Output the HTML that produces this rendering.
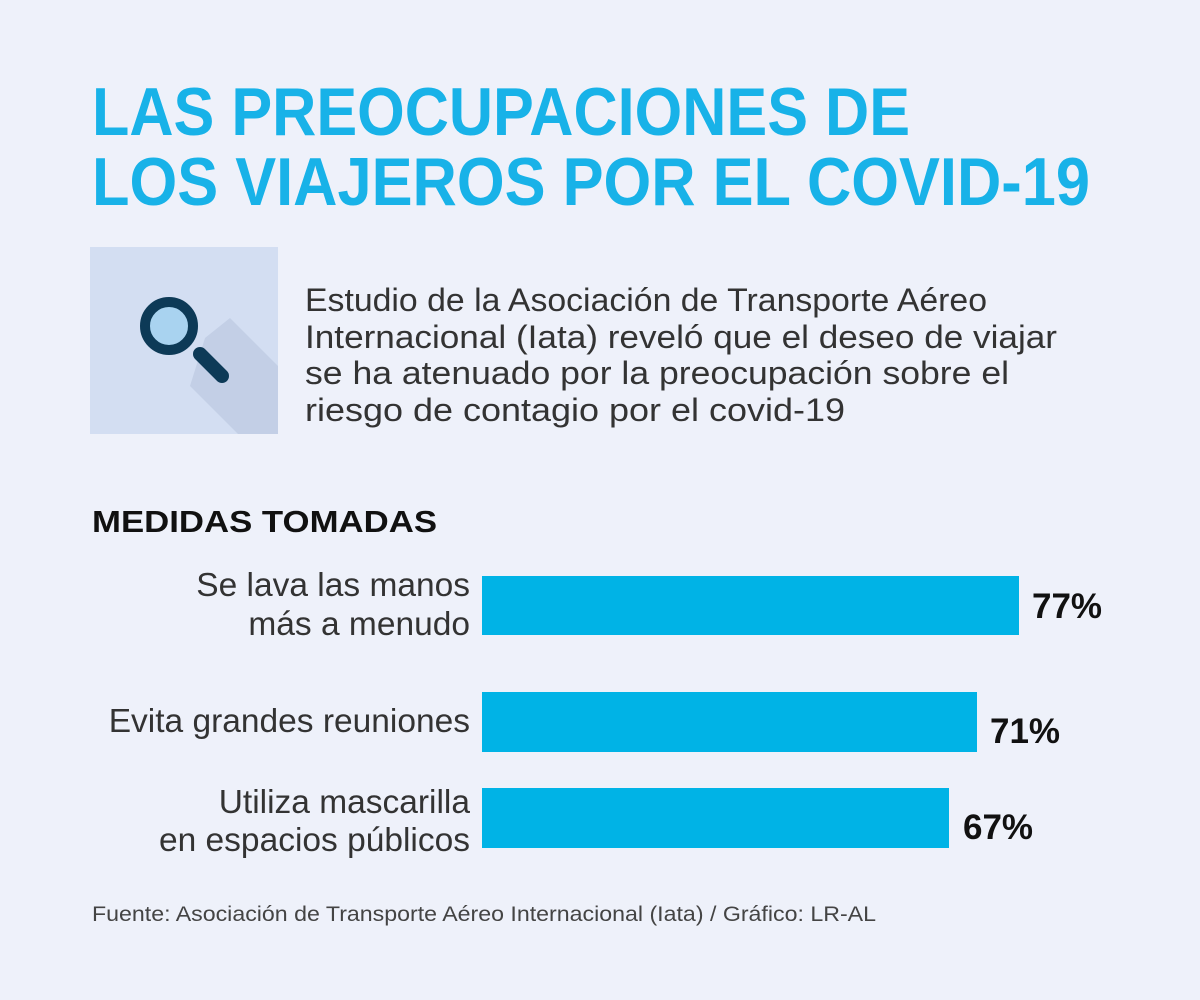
<!DOCTYPE html>
<html><head><meta charset="utf-8"><style>
html,body{margin:0;padding:0;background:#eef1fa;}
svg{display:block}
text{font-family:"Liberation Sans",sans-serif;}
</style></head><body>
<svg width="1200" height="1000" viewBox="0 0 1200 1000" xmlns="http://www.w3.org/2000/svg">
<rect width="1200" height="1000" fill="#eef1fa"/>
<g fill="#18b2e8" font-weight="bold" font-size="68">
<text x="92" y="135" textLength="818" lengthAdjust="spacingAndGlyphs">LAS PREOCUPACIONES DE</text>
<text x="92" y="205" textLength="998" lengthAdjust="spacingAndGlyphs">LOS VIAJEROS POR EL COVID-19</text>
</g>
<rect x="90" y="247" width="188" height="187" fill="#d3def2"/>
<polygon points="205,338 230,318 278,366 278,434 238,434 190,386" fill="#c3cfe6"/>
<line x1="200" y1="354" x2="222" y2="376" stroke="#0d3a57" stroke-width="14" stroke-linecap="round"/>
<circle cx="169" cy="326" r="24" fill="#a9d3f0" stroke="#0d3a57" stroke-width="10"/>
<g fill="#333" font-size="32">
<text x="305" y="311" textLength="682" lengthAdjust="spacingAndGlyphs">Estudio de la Asociación de Transporte Aéreo</text>
<text x="305" y="348" textLength="752" lengthAdjust="spacingAndGlyphs">Internacional (Iata) reveló que el deseo de viajar</text>
<text x="305" y="384" textLength="704" lengthAdjust="spacingAndGlyphs">se ha atenuado por la preocupación sobre el</text>
<text x="305" y="421" textLength="540" lengthAdjust="spacingAndGlyphs">riesgo de contagio por el covid-19</text>
</g>
<text x="92" y="532" font-size="31" font-weight="bold" fill="#111" textLength="345" lengthAdjust="spacingAndGlyphs">MEDIDAS TOMADAS</text>
<rect x="482" y="576" width="537" height="59" fill="#00b3e6"/>
<rect x="482" y="692" width="495" height="60" fill="#00b3e6"/>
<rect x="482" y="788" width="467" height="60" fill="#00b3e6"/>
<g fill="#333" font-size="33.5" text-anchor="end">
<text x="470" y="596">Se lava las manos</text>
<text x="470" y="635">más a menudo</text>
<text x="470" y="732">Evita grandes reuniones</text>
<text x="470" y="813">Utiliza mascarilla</text>
<text x="470" y="851">en espacios públicos</text>
</g>
<g fill="#111" font-size="35" font-weight="bold">
<text x="1032" y="618">77%</text>
<text x="990" y="743">71%</text>
<text x="963" y="839">67%</text>
</g>
<text x="92" y="921" font-size="21" fill="#444" textLength="784" lengthAdjust="spacingAndGlyphs">Fuente: Asociación de Transporte Aéreo Internacional (Iata) / Gráfico: LR-AL</text>
</svg>
</body></html>
